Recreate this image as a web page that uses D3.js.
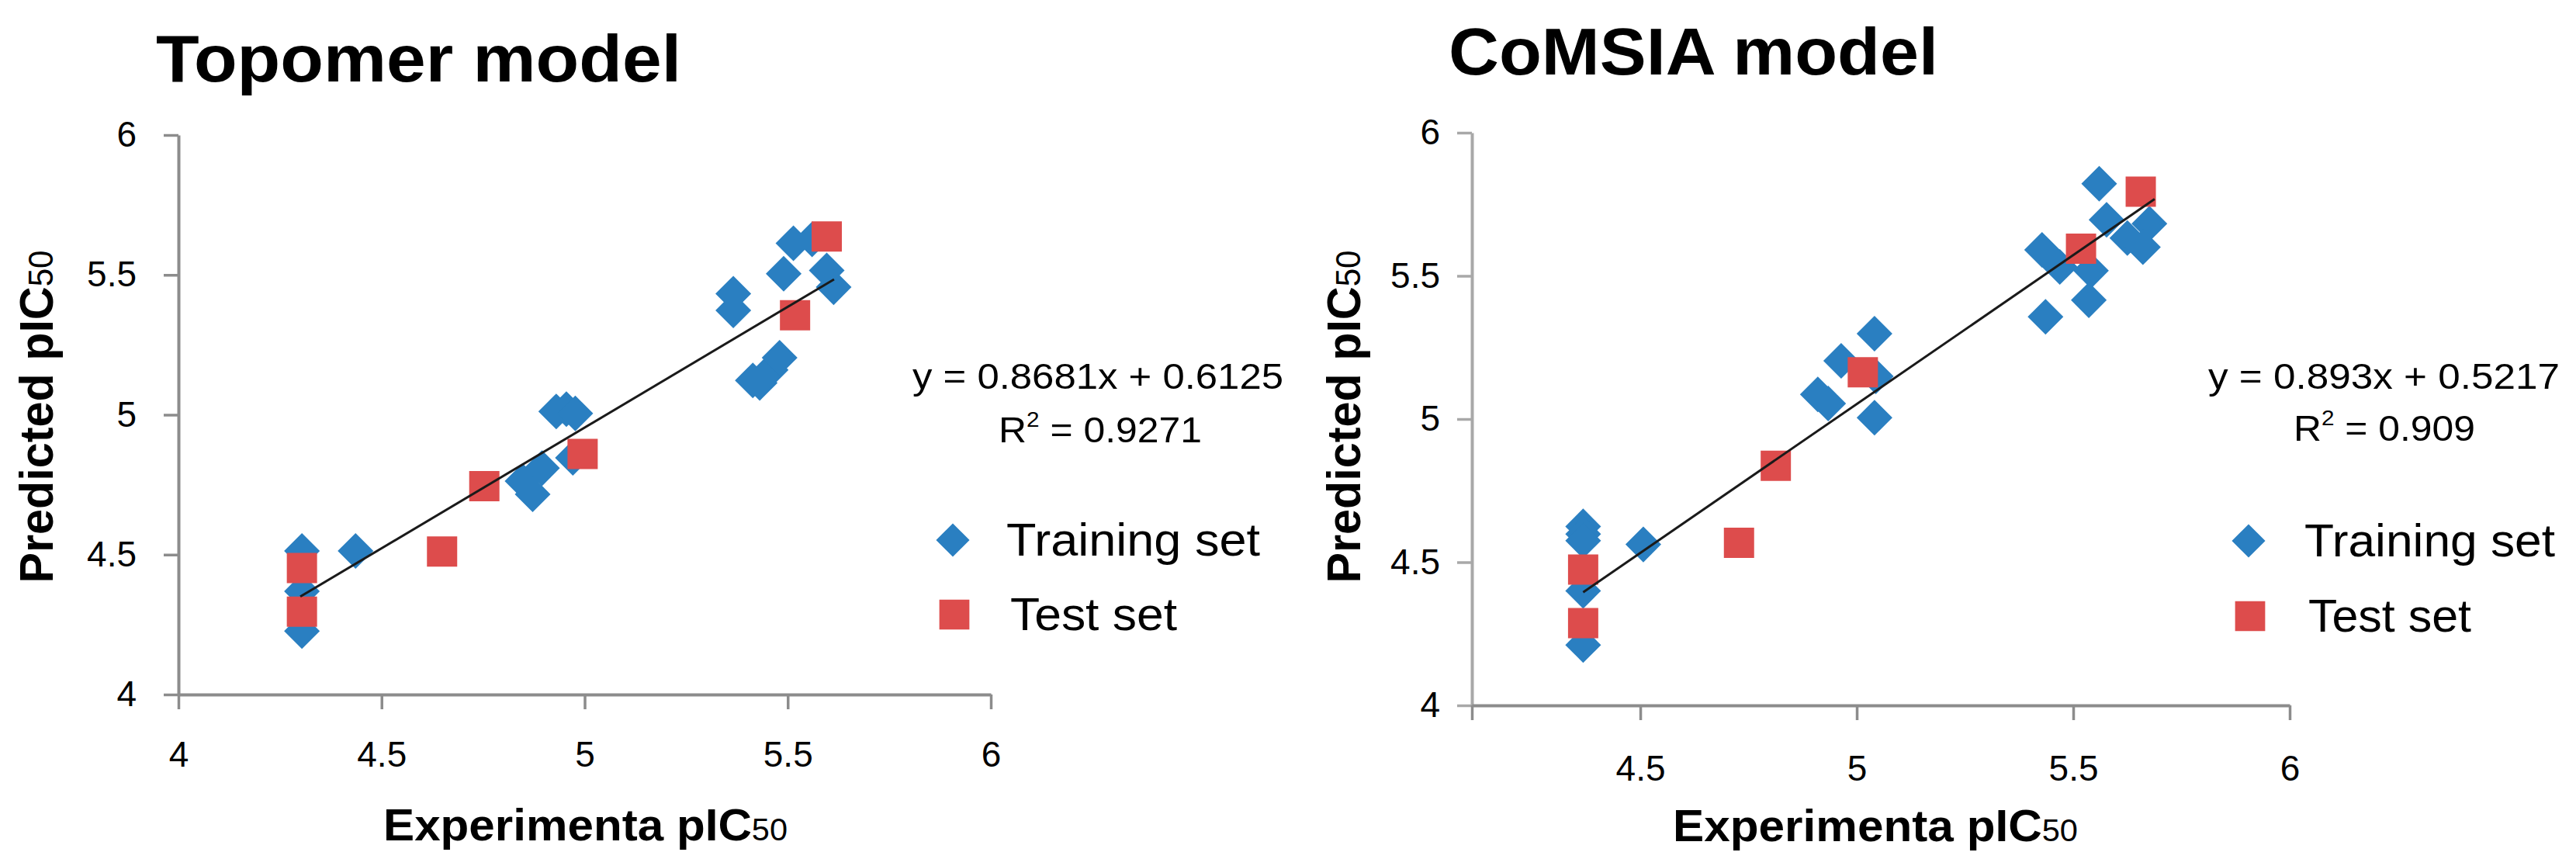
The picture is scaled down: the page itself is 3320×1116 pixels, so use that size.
<!DOCTYPE html>
<html>
<head>
<meta charset="utf-8">
<script src="https://cdn.jsdelivr.net/npm/d3@7"></script>
<style>
  body { margin: 0; background: #fff; }
  svg { display: block; }
  text { font-family: "Liberation Sans", Arial, sans-serif; fill: #000; }
</style>
</head>
<body>
<svg id="chart" width="3320" height="1116"></svg>
<script>
"use strict";

// Topomer model
let topoTrainX = [4.304, 4.304, 4.304, 4.436, 4.847, 4.872, 4.895, 4.971, 4.930, 4.955, 4.977,
                  5.366, 5.366, 5.414, 5.431, 5.458, 5.480, 5.490, 5.514, 5.560, 5.596, 5.613];
let topoTrainY = [4.513, 4.369, 4.227, 4.513, 4.763, 4.716, 4.809, 4.846, 5.012, 5.020, 5.005,
                  5.433, 5.373, 5.123, 5.114, 5.160, 5.204, 5.504, 5.613, 5.627, 5.516, 5.456];
let topoTestX = [4.304, 4.304, 4.649, 4.753, 4.995, 5.518, 5.596];
let topoTestY = [4.452, 4.296, 4.511, 4.745, 4.860, 5.356, 5.637];
let topoTrendX = [4.30, 5.614];
let topoTrendY = [4.350, 5.484];

// CoMSIA model
let comsiaTrainX = [4.368, 4.368, 4.368, 4.368, 4.368, 4.507, 4.910, 4.934, 4.964, 5.041, 5.044,
                    5.041, 5.428, 5.469, 5.541, 5.536, 5.436, 5.560, 5.577, 5.676, 5.625, 5.661];
let comsiaTrainY = [4.625, 4.598, 4.575, 4.400, 4.211, 4.562, 5.086, 5.054, 5.203, 5.298, 5.149,
                    5.005, 5.591, 5.531, 5.518, 5.415, 5.357, 5.822, 5.696, 5.682, 5.632, 5.600];
let comsiaTestX = [4.368, 4.368, 4.728, 4.813, 5.014, 5.518, 5.656];
let comsiaTestY = [4.474, 4.287, 4.568, 4.837, 5.163, 5.595, 5.794];
let comsiaTrendX = [4.368, 5.688];
let comsiaTrendY = [4.395, 5.768];

// axes
let yTicks = [4, 4.5, 5, 5.5, 6];
let yLabels = ["4", "4.5", "5", "5.5", "6"];
let topoXTicks = [4, 4.5, 5, 5.5, 6];
let topoXLabels = ["4", "4.5", "5", "5.5", "6"];
let comsiaXTicks = [4.111, 4.5, 5, 5.5, 6];
let comsiaXLabels = ["", "4.5", "5", "5.5", "6"];

let titles = ["Topomer model", "CoMSIA model"];
let equations = ["y = 0.8681x + 0.6125", "y = 0.893x + 0.5217"];
let r2Values = ["0.9271", "0.909"];
let legendNames = ["Training set", "Test set"];

let blue = "#2a7fc1";
let red = "#dd4c4c";
let axisGrey = "#8c8c8c";

let svg = d3.select("#chart");

function drawChart(o) {
  let g = svg.append("g");
  let x = d3.scaleLinear().domain(o.xDomain).range([o.left, o.right]);
  let y = d3.scaleLinear().domain([4, 6]).range([o.bottom, o.top]);

  // title
  g.append("text")
    .attr("x", o.titleX).attr("y", o.titleY)
    .attr("font-size", 86).attr("font-weight", "bold")
    .attr("textLength", o.titleLen).attr("lengthAdjust", "spacingAndGlyphs")
    .text(o.title);

  // y axis
  let yAxis = g.append("g")
    .attr("transform", "translate(" + o.left + ",0)")
    .call(d3.axisLeft(y).tickValues(yTicks).tickSize(19).tickSizeOuter(0).tickPadding(o.yPad)
      .tickFormat((d, i) => yLabels[i]));
  yAxis.select(".domain").attr("stroke", o.yAxisColor).attr("stroke-width", 4);
  yAxis.selectAll(".tick line").attr("stroke", o.yAxisColor).attr("stroke-width", 3.5);
  yAxis.selectAll(".tick text").attr("font-size", 46).attr("font-family", "Liberation Sans").attr("fill", o.tickColor);

  // x axis
  let xAxis = g.append("g")
    .attr("transform", "translate(0," + o.bottom + ")")
    .call(d3.axisBottom(x).tickValues(o.xTicks).tickSize(19).tickSizeOuter(0).tickPadding(o.xPad)
      .tickFormat((d, i) => o.xLabels[i]));
  xAxis.select(".domain").attr("stroke", axisGrey).attr("stroke-width", 4);
  xAxis.selectAll(".tick line").attr("stroke", axisGrey).attr("stroke-width", 3.5);
  xAxis.selectAll(".tick text").attr("font-size", 46).attr("font-family", "Liberation Sans").attr("fill", o.tickColor);

  // axis titles
  let xt = g.append("text")
    .attr("x", o.xTitleX).attr("y", o.xTitleY)
    .attr("font-size", 58).attr("font-weight", "bold")
    .attr("textLength", o.xTitleLen).attr("lengthAdjust", "spacingAndGlyphs");
  xt.append("tspan").text("Experimenta pIC");
  xt.append("tspan").attr("font-size", 40).attr("font-weight", "normal").text("50");

  let yt = g.append("text")
    .attr("transform", "translate(" + o.yTitleX + "," + o.yTitleY + ") rotate(-90)")
    .attr("text-anchor", "middle")
    .attr("font-size", 62).attr("font-weight", "bold")
    .attr("textLength", 429).attr("lengthAdjust", "spacingAndGlyphs");
  yt.append("tspan").text("Predicted pIC");
  yt.append("tspan").attr("font-size", 44).attr("font-weight", "normal").text("50");

  // training set (diamonds)
  let diamond = d3.symbol().type(d3.symbolSquare).size(1060);
  g.append("g").selectAll("path").data(o.trainX)
    .enter()
    .append("path")
    .attr("d", diamond)
    .attr("transform", (d, i) => "translate(" + x(d) + "," + y(o.trainY[i]) + ") rotate(45)")
    .attr("fill", blue);

  // test set (squares)
  let square = d3.symbol().type(d3.symbolSquare).size(1520);
  g.append("g").selectAll("path").data(o.testX)
    .enter()
    .append("path")
    .attr("d", square)
    .attr("transform", (d, i) => "translate(" + x(d) + "," + y(o.testY[i]) + ")")
    .attr("fill", red);

  // trend line
  let line = d3.line().x(d => x(d[0])).y(d => y(d[1]));
  g.append("path")
    .datum(d3.zip(o.trendX, o.trendY))
    .attr("d", line)
    .attr("stroke", "#1a1a1a").attr("stroke-width", 3).attr("fill", "none");

  // equation
  g.append("text")
    .attr("x", o.eqX).attr("y", o.eqY)
    .attr("font-size", 47)
    .attr("textLength", o.eqLen).attr("lengthAdjust", "spacingAndGlyphs")
    .text(o.equation);
  let r2 = g.append("text")
    .attr("x", o.r2X).attr("y", o.r2Y)
    .attr("font-size", 47)
    .attr("textLength", o.r2Len).attr("lengthAdjust", "spacingAndGlyphs");
  r2.append("tspan").text("R");
  r2.append("tspan").attr("font-size", 28).attr("dy", -20).text("2");
  r2.append("tspan").attr("dy", 20).text(" = " + o.r2);

  // legend
  g.append("path")
    .attr("d", d3.symbol().type(d3.symbolSquare).size(930))
    .attr("transform", "translate(" + o.legX + "," + o.legY[0] + ") rotate(45)")
    .attr("fill", blue);
  g.append("path")
    .attr("d", d3.symbol().type(d3.symbolSquare).size(1500))
    .attr("transform", "translate(" + (o.legX + 2) + "," + o.legY[1] + ")")
    .attr("fill", red);
  legendNames.forEach((name, i) => {
    g.append("text")
      .attr("x", o.legTextX[i]).attr("y", o.legY[i] + 20)
      .attr("font-size", 59)
      .attr("textLength", o.legLen[i]).attr("lengthAdjust", "spacingAndGlyphs")
      .text(name);
  });
}

drawChart({
  title: titles[0], titleX: 201, titleY: 105, titleLen: 677,
  xDomain: [4, 6], left: 230, right: 1277, top: 174, bottom: 895,
  xTicks: topoXTicks, xLabels: topoXLabels, xPad: 41, yPad: 35,
  yAxisColor: axisGrey, tickColor: "#000",
  xTitleX: 494, xTitleY: 1083, xTitleLen: 521,
  yTitleX: 68, yTitleY: 537,
  trainX: topoTrainX, trainY: topoTrainY, testX: topoTestX, testY: topoTestY,
  trendX: topoTrendX, trendY: topoTrendY,
  equation: equations[0], eqX: 1176, eqY: 501, eqLen: 478,
  r2: r2Values[0], r2X: 1287, r2Y: 570, r2Len: 262,
  legX: 1228, legY: [696, 792], legTextX: [1297, 1302], legLen: [327, 215]
});

drawChart({
  title: titles[1], titleX: 1867, titleY: 96, titleLen: 631,
  xDomain: [4.111, 6], left: 1897, right: 2951, top: 171, bottom: 909,
  xTicks: comsiaXTicks, xLabels: comsiaXLabels, xPad: 45, yPad: 22,
  yAxisColor: "#a8a8a8", tickColor: "#222",
  xTitleX: 2156, xTitleY: 1084, xTitleLen: 522,
  yTitleX: 1753, yTitleY: 537,
  trainX: comsiaTrainX, trainY: comsiaTrainY, testX: comsiaTestX, testY: comsiaTestY,
  trendX: comsiaTrendX, trendY: comsiaTrendY,
  equation: equations[1], eqX: 2846, eqY: 501, eqLen: 453,
  r2: r2Values[1], r2X: 2956, r2Y: 568, r2Len: 234,
  legX: 2898, legY: [697, 794], legTextX: [2970, 2975], legLen: [323, 210]
});
</script>
</body>
</html>
